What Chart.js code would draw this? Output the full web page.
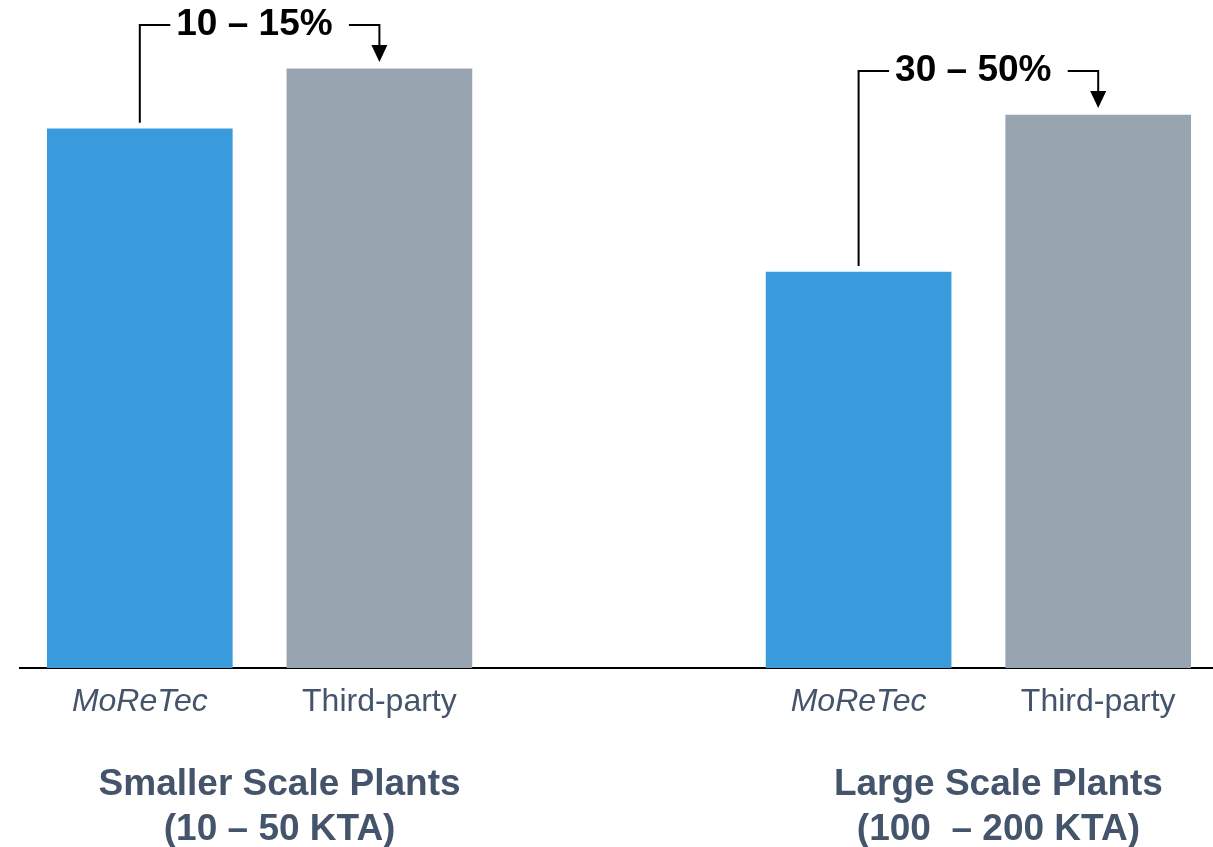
<!DOCTYPE html>
<html>
<head>
<meta charset="utf-8">
<title>Plant cost comparison</title>
<script src="https://cdn.jsdelivr.net/npm/chart.js@4.4.1/dist/chart.umd.min.js"></script>
<style>
  html, body { margin: 0; padding: 0; background: #fff; overflow: hidden; }
  canvas { display: block; }
</style>
</head>
<body>
<canvas id="costChart" width="1218" height="847"></canvas>
<script>
// bar labels, the empty slot keeps the gap between the two plant groups
const barLabels = ['MoReTec', 'Third-party', '', 'MoReTec', 'Third-party'];
// relative cost, third-party small plant = 100
const costIndex = [90, 100, null, 66.1, 92.3];
const barColors = ['#3A9BDC', '#98A4AF', '#ffffff', '#3A9BDC', '#98A4AF'];
const groupTitles = [
    ['Smaller Scale Plants', '(10 – 50 KTA)'],
    ['Large Scale Plants', '(100  – 200 KTA)']
];
const savingLabels = ['10 – 15%', '30 – 50%'];
// which bars each bracket / group title belongs to
const pairs = [[0, 1], [3, 4]];

const fontFamily = "'Liberation Sans', Arial, sans-serif";
const slate = '#44546A';

// brackets with the saving range on top of each pair, group titles under the axis
const annotations = {
    id: 'annotations',
    afterDatasetsDraw(chart) {
        const ctx = chart.ctx;
        const bars = chart.getDatasetMeta(0).data;
        const bottom = chart.chartArea.bottom;

        ctx.save();
        ctx.strokeStyle = '#000';
        ctx.fillStyle = '#000';
        ctx.lineWidth = 2;

        pairs.forEach((p, i) => {
            const a = bars[p[0]];
            const b = bars[p[1]];
            const topY = Math.min(a.y, b.y) - 44;
            const mid = (a.x + b.x) / 2;

            ctx.font = 'bold 37px ' + fontFamily;
            const text = savingLabels[i] + ' ';
            const w = ctx.measureText(text).width;

            ctx.beginPath();
            ctx.moveTo(a.x, a.y - 6);
            ctx.lineTo(a.x, topY);
            ctx.lineTo(mid - w / 2 - 6, topY);
            ctx.moveTo(mid + w / 2 + 6, topY);
            ctx.lineTo(b.x, topY);
            ctx.lineTo(b.x, b.y - 23);
            ctx.stroke();

            // arrow head
            ctx.beginPath();
            ctx.moveTo(b.x - 8, b.y - 24);
            ctx.lineTo(b.x + 8, b.y - 24);
            ctx.lineTo(b.x, b.y - 7);
            ctx.closePath();
            ctx.fill();

            ctx.textAlign = 'center';
            ctx.textBaseline = 'middle';
            ctx.fillText(text, mid, topY);

            // group title
            ctx.fillStyle = slate;
            ctx.textBaseline = 'alphabetic';
            ctx.font = 'bold 37px ' + fontFamily;
            ctx.fillText(groupTitles[i][0], mid + 20, bottom + 127);
            ctx.fillText(groupTitles[i][1], mid + 20, bottom + 172);
            ctx.fillStyle = '#000';
        });
        ctx.restore();
    }
};

new Chart(document.getElementById('costChart'), {
    type: 'bar',
    data: {
        labels: barLabels,
        datasets: [{
            data: costIndex,
            backgroundColor: barColors,
            barThickness: 185,
            borderWidth: 0
        }]
    },
    options: {
        responsive: false,
        animation: false,
        layout: { padding: { left: 20, top: 9, right: 0, bottom: 0 } },
        plugins: {
            legend: { display: false },
            tooltip: { enabled: false }
        },
        scales: {
            x: {
                grid: { display: false },
                border: { display: true, color: '#000', width: 2 },
                afterFit: (scale) => { scale.height = 179; },
                ticks: {
                    color: slate,
                    padding: 7,
                    font: (c) => ({
                        family: fontFamily,
                        size: 32,
                        style: barLabels[c.index] === 'MoReTec' ? 'italic' : 'normal'
                    })
                }
            },
            y: {
                display: false,
                min: 0,
                max: 110
            }
        }
    },
    plugins: [annotations]
});
</script>
</body>
</html>
